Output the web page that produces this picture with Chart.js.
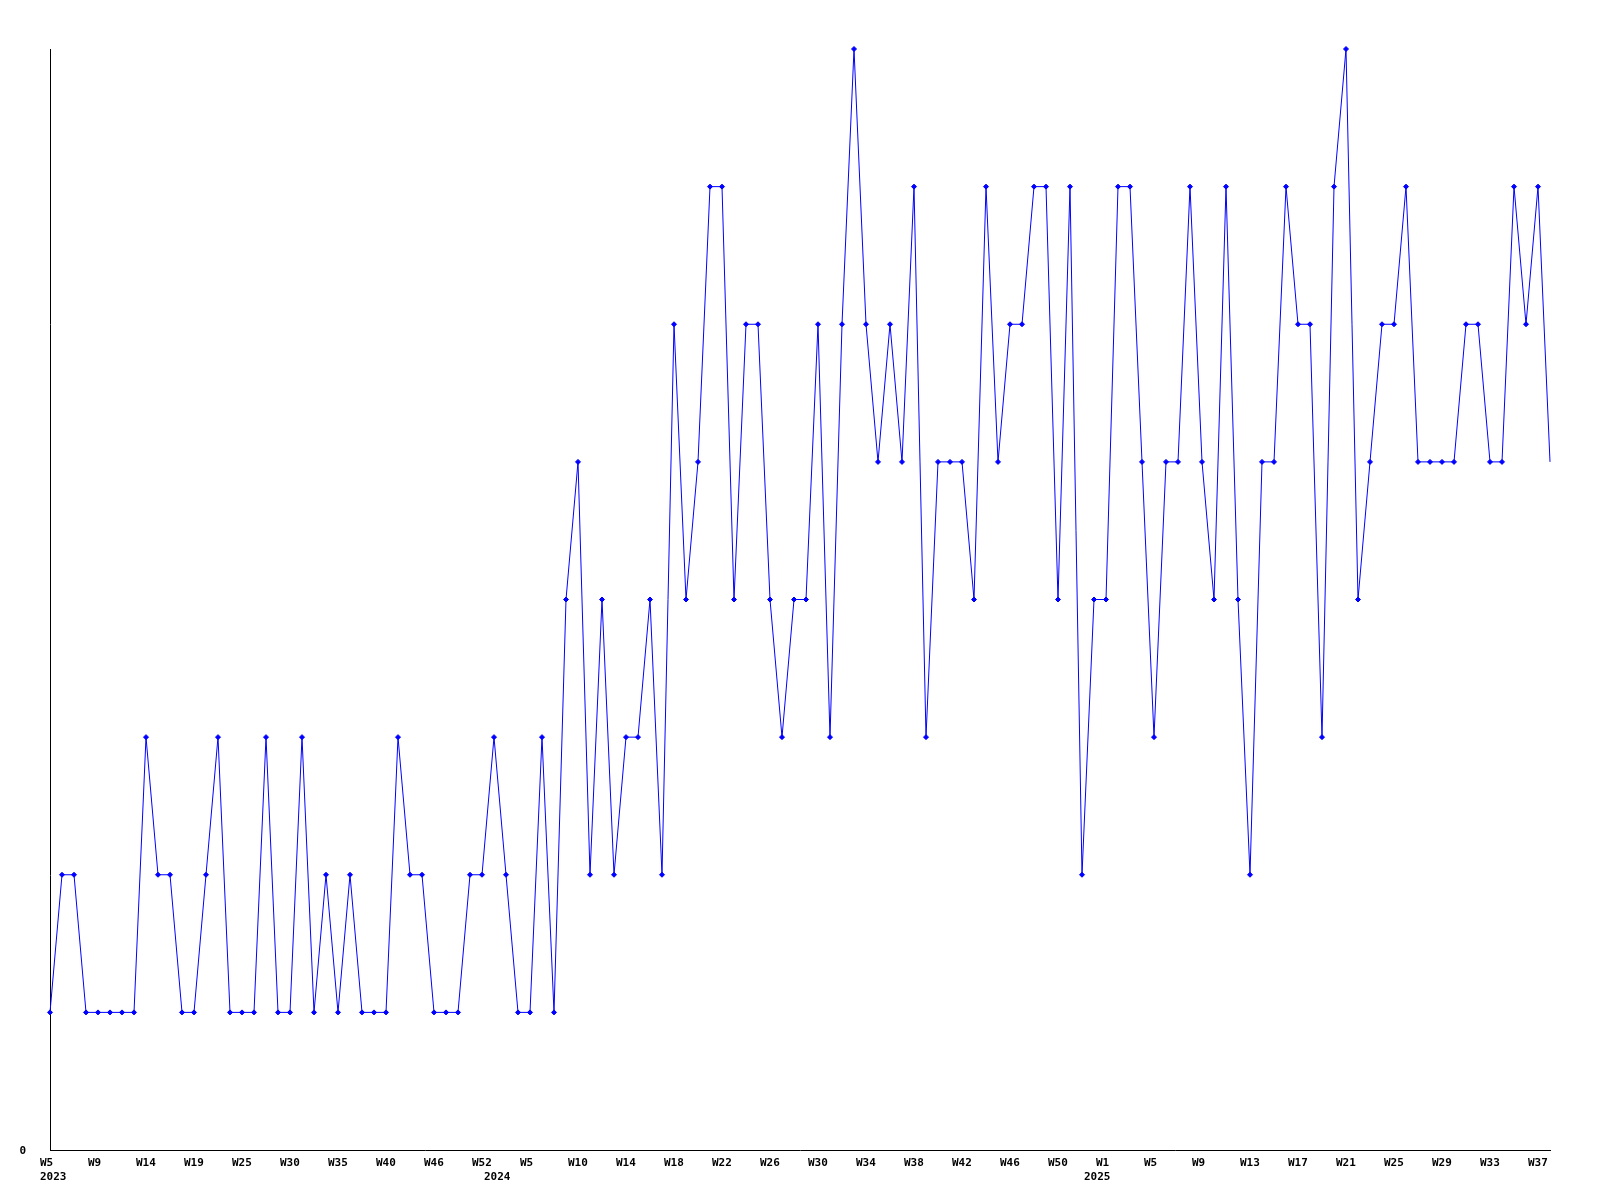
<!DOCTYPE html>
<html>
<head>
<meta charset="utf-8">
<script src="https://cdn.jsdelivr.net/npm/chart.js@4"></script>
<style>
  body { margin: 0; background: #fff; }
</style>
</head>
<body>
<canvas id="chart" width="1600" height="1200"></canvas>
<script>
'use strict';

// week of each point (2023 has gaps, weekly from 2024 on)
const weeks = [
  'W5', 'W6', 'W7', 'W8', 'W9', 'W10', 'W11', 'W13', 'W14', 'W15', 'W16', 'W18',
  'W19', 'W20', 'W22', 'W23', 'W25', 'W26', 'W27', 'W29', 'W30', 'W31', 'W32', 'W34',
  'W35', 'W36', 'W37', 'W39', 'W40', 'W41', 'W43', 'W44', 'W46', 'W47', 'W49', 'W50',
  'W52',
  'W1', 'W2', 'W3', 'W5', 'W6', 'W7', 'W8', 'W10', 'W11', 'W12', 'W13', 'W14',
  'W15', 'W16', 'W17', 'W18', 'W19', 'W20', 'W21', 'W22', 'W23', 'W24', 'W25', 'W26',
  'W27', 'W28', 'W29', 'W30', 'W31', 'W32', 'W33', 'W34', 'W35', 'W36', 'W37', 'W38',
  'W39', 'W40', 'W41', 'W42', 'W43', 'W44', 'W45', 'W46', 'W47', 'W48', 'W49', 'W50',
  'W51', 'W52',
  'W0', 'W1', 'W2', 'W3', 'W4', 'W5', 'W6', 'W7', 'W8', 'W9', 'W10', 'W11', 'W12',
  'W13', 'W14', 'W15', 'W16', 'W17', 'W18', 'W19', 'W20', 'W21', 'W22', 'W23', 'W24',
  'W25', 'W26', 'W27', 'W28', 'W29', 'W30', 'W31', 'W32', 'W33', 'W34', 'W35', 'W36',
  'W37', 'W38'
];

// first point of each year gets the year under it
const yearMarks = [[0, '2023'], [37, '2024'], [87, '2025']];

const counts = [
  1, 2, 2, 1, 1, 1, 1, 1, 3, 2, 2, 1,
  1, 2, 3, 1, 1, 1, 3, 1, 1, 3, 1, 2,
  1, 2, 1, 1, 1, 3, 2, 2, 1, 1, 1, 2,
  2,
  3, 2, 1, 1, 3, 1, 4, 5, 2, 4, 2, 3,
  3, 4, 2, 6, 4, 5, 7, 7, 4, 6, 6, 4,
  3, 4, 4, 6, 3, 6, 8, 6, 5, 6, 5, 7,
  3, 5, 5, 5, 4, 7, 5, 6, 6, 7, 7, 4,
  7, 2,
  4, 4, 7, 7, 5, 3, 5, 5, 7, 5, 4, 7,
  4, 2, 5, 5, 7, 6, 6, 3, 7, 8, 4, 5,
  6, 6, 7, 5, 5, 5, 5, 6, 6, 5, 5, 7,
  6, 7, 5
];

const labelEvery = 4;

const tickFont = { family: 'DejaVu Sans Mono', size: 11, weight: 'bold', lineHeight: 1.27 };

function renderChart() {
  const ctx = document.getElementById('chart');
  const last = counts.length - 1;

  new Chart(ctx, {
    type: 'line',
    data: {
      labels: weeks,
      datasets: [{
        data: counts,
        borderColor: '#0000ff',
        backgroundColor: '#0000ff',
        borderWidth: 1,
        pointStyle: 'rectRot',
        // the newest point has no marker in the original
        pointRadius: c => c.dataIndex === last ? 0 : 2.5,
        pointBorderWidth: 1,
        tension: 0,
        clip: false
      }]
    },
    options: {
      responsive: false,
      animation: false,
      layout: { padding: { top: 49, right: 50, left: 0, bottom: 0 } },
      plugins: { legend: { display: false }, tooltip: { enabled: false } },
      scales: {
        x: {
          offset: false,
          grid: { display: false, drawTicks: false },
          border: { display: true, color: '#000', width: 1 },
          afterFit: scale => { scale.height = 50; },
          ticks: {
            autoSkip: false,
            maxRotation: 0,
            align: 'start',
            labelOffset: -10,
            padding: 6,
            color: '#000',
            font: tickFont,
            callback: (value, index) => {
              const week = index % labelEvery === 0 ? weeks[index] : '';
              const mark = yearMarks.find(m => m[0] === index);
              return mark ? [week, mark[1]] : week;
            }
          }
        },
        y: {
          min: 0,
          max: 8,
          grid: { display: false, drawTicks: false },
          border: { display: true, color: '#000', width: 1 },
          afterFit: scale => { scale.width = 50; },
          ticks: {
            stepSize: 1,
            padding: 24,
            labelOffset: 1,
            color: '#000',
            font: tickFont,
            callback: value => value === 0 ? '0' : ''
          }
        }
      }
    }
  });
}

renderChart();
</script>
</body>
</html>
